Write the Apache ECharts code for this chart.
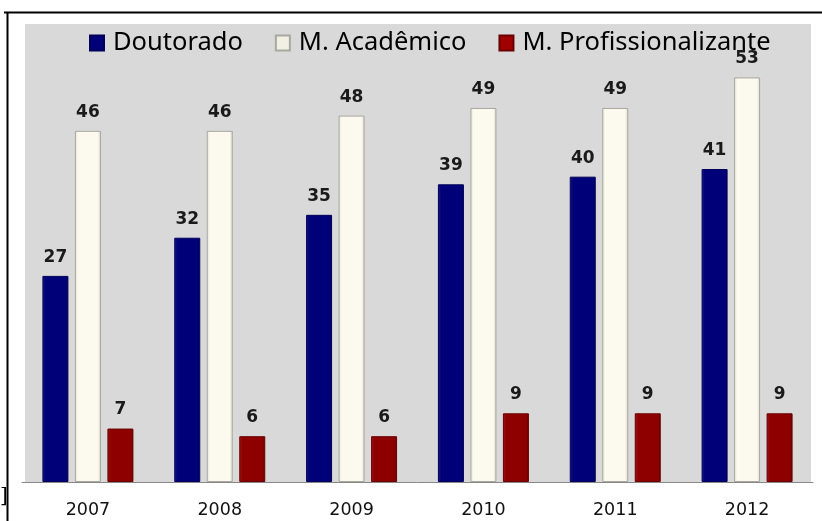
<!DOCTYPE html>
<html>
<head>
<meta charset="utf-8">
<script src="https://cdn.jsdelivr.net/npm/echarts@6/dist/echarts.min.js"></script>
<style>html,body{margin:0;padding:0;background:#fff;}#c{width:822px;height:521px;}</style>
</head>
<body>
<div id="c"></div>
<script>
var years = ['2007', '2008', '2009', '2010', '2011', '2012'];
var doutorado = [27, 32, 35, 39, 40, 41];
var academico = [46, 46, 48, 49, 49, 53];
var profissional = [7, 6, 6, 9, 9, 9];
var seriesNames = ['Doutorado', 'M. Acadêmico', 'M. Profissionalizante'];

function hGrad(edge, base, dark) {
  return {
    type: 'linear', x: 0, y: 0, x2: 1, y2: 0,
    colorStops: [
      {offset: 0, color: edge},
      {offset: 0.12, color: base},
      {offset: 0.88, color: base},
      {offset: 1, color: dark}
    ]
  };
}

var styles = [
  {color: hGrad('#1a1a88', '#000078', '#000060'), borderColor: '#00005a'},
  {color: hGrad('#e6e4d8', '#fcfaee', '#d8d6cc'), borderColor: '#a8a8a0'},
  {color: hGrad('#a01818', '#8e0000', '#700000'), borderColor: '#6a0000'}
];
var legendColors = ['#000078', '#f2f0e4', '#a00000'];
var dataSets = [doutorado, academico, profissional];

var chart = echarts.init(document.getElementById('c'), null, {renderer: 'canvas'});
chart.setOption({
  animation: false,
  backgroundColor: '#ffffff',
  graphic: [
    {type: 'rect', z: -10, shape: {x: 25, y: 24, width: 786, height: 459}, style: {fill: '#d9d9d9'}},
    {type: 'line', shape: {x1: 4, y1: 12.5, x2: 822, y2: 12.5}, style: {stroke: '#000', lineWidth: 2}},
    {type: 'line', shape: {x1: 7.5, y1: 12, x2: 7.5, y2: 521}, style: {stroke: '#000', lineWidth: 2}},
    {type: 'text', left: 0, top: 487, style: {text: ']', font: '20px "DejaVu Serif"', fill: '#000'}}
  ],
  legend: {
    left: 89, top: 30, padding: 0,
    itemWidth: 14, itemHeight: 15, itemGap: 32,
    icon: 'rect',
    textStyle: {fontFamily: 'Noto Sans', fontSize: 25.5, color: '#000', padding: [0, 0, 0, 4]},
    data: seriesNames.map(function (n, i) { return {name: n, itemStyle: {color: legendColors[i]}}; })
  },
  grid: {left: 22, right: 9, top: 24, bottom: 39, containLabel: false},
  xAxis: {
    type: 'category', data: years,
    axisLine: {show: true, lineStyle: {color: '#888', width: 1}},
    axisTick: {show: false},
    axisLabel: {fontFamily: 'DejaVu Sans', fontSize: 17.5, color: '#111', margin: 19}
  },
  yAxis: {type: 'value', min: 0, max: 60, show: false, splitLine: {show: false}},
  series: dataSets.map(function (d, i) {
    return {
      name: seriesNames[i], type: 'bar', data: d,
      barWidth: 26, barGap: '25%',
      itemStyle: {color: styles[i].color, borderColor: styles[i].borderColor, borderWidth: 1},
      label: {show: true, position: 'top', distance: 10, fontFamily: 'DejaVu Sans', fontWeight: 'bold', fontSize: 17, color: '#1a1a1a'}
    };
  })
});
</script>
</body>
</html>
